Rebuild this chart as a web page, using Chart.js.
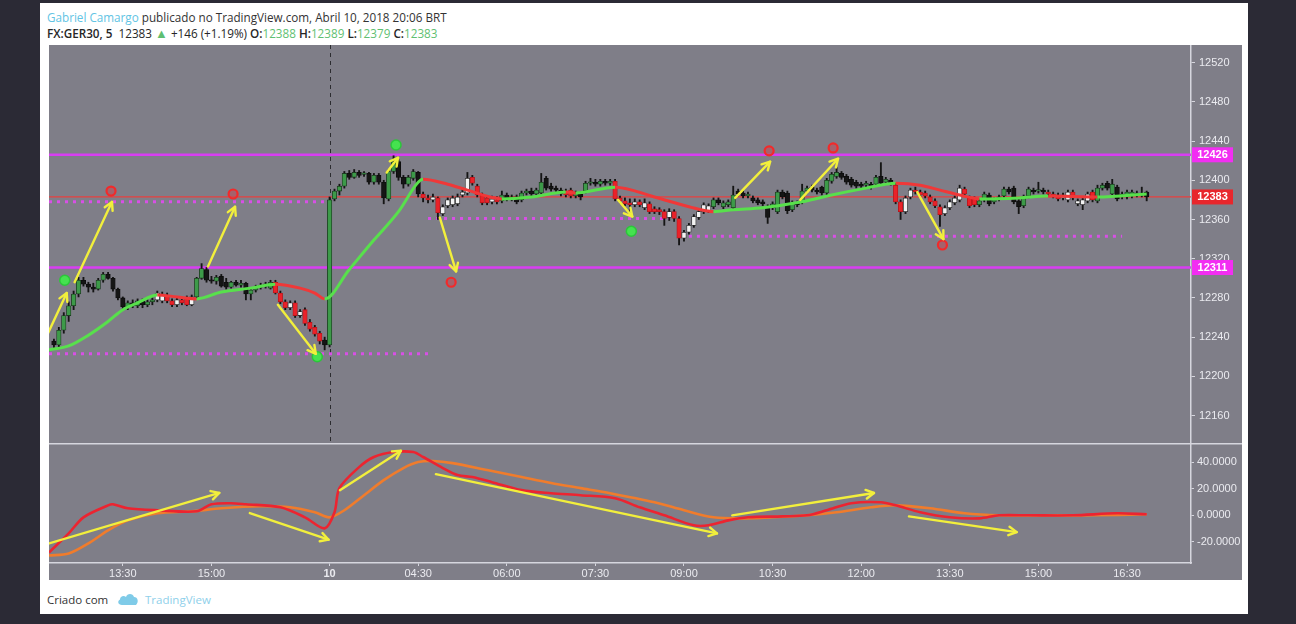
<!DOCTYPE html>
<html><head><meta charset="utf-8">
<script src="https://cdn.jsdelivr.net/npm/chart.js@4.4.1/dist/chart.umd.min.js"></script>
<style>
html,body{margin:0;padding:0;}
body{width:1296px;height:624px;background:#2b2a35;overflow:hidden;position:relative;font-family:"Open Sans",sans-serif;}
#card{position:absolute;left:40px;top:3px;width:1208px;height:611px;background:#fff;}
.hd{position:absolute;left:7px;font-size:11.7px;line-height:14px;color:#333;white-space:nowrap;}
.g{color:#5fbf72;font-weight:400;}
.ft{position:absolute;top:590px;font-size:11.5px;line-height:14px;white-space:nowrap;}
canvas{position:absolute;}
</style></head>
<body>
<div id="card">
  <div class="hd" style="top:7px"><span style="color:#62c4e4">Gabriel Camargo</span> publicado no TradingView.com, Abril 10, 2018 20:06 BRT</div>
  <div class="hd" style="top:23px;font-weight:600;color:#262626">FX:GER30, 5&nbsp; <span style="font-weight:400">12383</span> <span class="g" style="font-size:13px">&#9650;</span> <span style="font-weight:400">+146 (+1.19%)</span> O:<span class="g">12388</span> H:<span class="g">12389</span> L:<span class="g">12379</span> C:<span class="g">12383</span></div>
  <div class="ft" style="left:7px;color:#333">Criado com</div>
  <svg style="position:absolute;left:77px;top:589px" width="22" height="14" viewBox="0 0 22 14"><path d="M5 13 C1 13 0 9 3 7.5 C3 4 7 3 9 5 C10 1 16 1 17 5 C21 5 22 10 19 13 Z" fill="#7fcbe8"/></svg>
  <div class="ft" style="left:105px;color:#8fd0ea">TradingView</div>
</div>
<canvas id="main" width="1193" height="398" style="left:49px;top:45px;width:1193px;height:398px"></canvas>
<canvas id="osc" width="1193" height="137" style="left:49px;top:443px;width:1193px;height:137px"></canvas>
<script>
// ---------- DATA ----------
const timeTickIdx = [14,32,56,74,92,110,128,146,164,182,200,218];
const timeTickLabels = ['13:30','15:00','10','04:30','06:00','07:30','09:00','10:30','12:00','13:30','15:00','16:30'];
const priceTicks = [12160,12200,12240,12280,12320,12360,12400,12440,12480,12520];
const oscTicks = [-20,0,20,40];

const opens = [
12236,12232,12247,12262,12272,12284,12298,12294,12291,12289,
12298,12304,12300,12289,12280,12271,12275,12272,12277,12273,
12276,12278,12277,12283,12277,12273,12278,12280,12273,12281,
12300,12309,12298,12297,12302,12296,12291,12296,12293,12295,
12284,12288,12291,12292,12290,12296,12285,12276,12270,12275,
12262,12268,12255,12250,12244,12237,12232,12381,12389,12394,
12407,12403,12408,12406,12407,12398,12405,12398,12381,12409,
12419,12403,12396,12402,12408,12386,12382,12380,12382,12366,
12374,12375,12376,12385,12387,12403,12394,12385,12382,12378,
12380,12379,12385,12381,12383,12380,12387,12389,12386,12387,
12402,12394,12392,12390,12389,12390,12384,12386,12389,12397,
12398,12396,12399,12397,12399,12382,12379,12377,12375,12378,
12372,12376,12371,12370,12368,12362,12368,12361,12341,12347,
12354,12362,12368,12369,12373,12380,12373,12375,12372,12389,
12387,12384,12382,12380,12378,12373,12372,12368,12388,12387,
12370,12377,12378,12389,12393,12390,12393,12387,12399,12404,
12407,12404,12401,12398,12396,12395,12396,12396,12404,12398,
12400,12395,12378,12368,12383,12390,12388,12387,12383,12379,
12373,12366,12372,12377,12380,12391,12382,12381,12375,12380,
12385,12378,12381,12384,12391,12392,12379,12374,12384,12390,
12389,12390,12388,12386,12385,12382,12380,12388,12376,12375,
12379,12388,12379,12392,12397,12386,12393,12383,12383,12384,
12387,12385,12388];
const closes = [
12232,12247,12262,12272,12284,12298,12294,12291,12289,12298,
12304,12300,12289,12280,12271,12275,12272,12277,12273,12276,
12278,12285,12283,12277,12273,12278,12275,12273,12281,12300,
12310,12298,12297,12301,12292,12291,12296,12293,12295,12284,
12288,12291,12292,12294,12296,12285,12276,12270,12275,12262,
12266,12254,12248,12243,12236,12232,12380,12389,12394,12407,
12403,12408,12405,12407,12398,12405,12398,12382,12409,12419,
12403,12396,12403,12409,12386,12382,12380,12383,12367,12373,
12380,12382,12383,12388,12402,12397,12385,12377,12377,12381,
12378,12385,12381,12383,12378,12387,12389,12386,12390,12398,
12392,12391,12390,12386,12385,12384,12387,12383,12397,12398,
12396,12399,12397,12399,12381,12379,12376,12375,12378,12375,
12377,12368,12368,12368,12361,12368,12361,12341,12347,12354,
12363,12368,12375,12374,12380,12377,12377,12378,12385,12386,
12384,12386,12379,12377,12376,12362,12376,12388,12383,12369,
12377,12375,12389,12392,12390,12388,12387,12400,12406,12408,
12403,12398,12395,12394,12394,12397,12393,12403,12397,12401,
12397,12378,12368,12382,12390,12388,12385,12384,12378,12374,
12365,12372,12378,12382,12392,12386,12374,12375,12379,12386,
12376,12380,12383,12391,12388,12378,12373,12383,12391,12388,
12390,12388,12386,12384,12381,12385,12388,12382,12379,12380,
12386,12380,12392,12395,12392,12396,12381,12386,12388,12388,
12385,12387,12383];
const highs = [
12238,12250,12265,12276,12287,12301,12301,12296,12295,12300,
12306,12306,12301,12290,12281,12277,12278,12279,12279,12278,
12280,12287,12286,12285,12279,12280,12280,12282,12283,12301,
12315,12311,12302,12303,12304,12300,12297,12298,12298,12296,
12290,12293,12295,12296,12298,12298,12287,12278,12277,12277,
12268,12270,12258,12252,12246,12240,12383,12391,12396,12409,
12410,12411,12410,12409,12408,12407,12407,12400,12411,12425,
12421,12405,12405,12411,12409,12388,12385,12386,12383,12375,
12382,12384,12386,12392,12408,12405,12396,12387,12384,12384,
12383,12389,12387,12385,12385,12389,12391,12392,12392,12407,
12404,12397,12394,12392,12391,12392,12389,12388,12399,12402,
12401,12401,12401,12401,12401,12384,12382,12381,12381,12380,
12381,12378,12373,12372,12370,12371,12370,12363,12349,12356,
12365,12370,12377,12376,12382,12382,12379,12380,12394,12391,
12389,12388,12384,12382,12380,12375,12378,12390,12390,12389,
12379,12379,12396,12394,12395,12392,12394,12402,12408,12413,
12409,12406,12403,12400,12398,12399,12398,12405,12418,12403,
12402,12397,12380,12384,12392,12393,12390,12389,12385,12381,
12375,12374,12380,12384,12395,12393,12384,12383,12381,12388,
12387,12382,12385,12393,12393,12394,12381,12385,12393,12392,
12398,12392,12390,12388,12387,12387,12390,12390,12381,12382,
12388,12390,12395,12397,12399,12401,12395,12388,12390,12390,
12389,12393,12389];
const lows = [
12229,12230,12244,12256,12268,12281,12292,12286,12286,12288,
12296,12299,12287,12278,12269,12268,12270,12270,12270,12271,
12273,12276,12275,12275,12271,12271,12273,12272,12272,12280,
12299,12296,12295,12294,12291,12289,12290,12292,12291,12278,
12278,12286,12289,12290,12289,12284,12274,12268,12268,12260,
12260,12252,12246,12241,12233,12227,12230,12379,12385,12392,
12401,12402,12403,12404,12396,12396,12396,12376,12379,12407,
12400,12392,12394,12400,12383,12378,12377,12378,12360,12364,
12372,12373,12374,12383,12385,12395,12383,12375,12375,12376,
12376,12377,12379,12379,12376,12378,12385,12384,12384,12385,
12390,12389,12388,12384,12383,12382,12382,12380,12387,12395,
12394,12394,12395,12395,12379,12377,12374,12368,12373,12373,
12370,12366,12366,12365,12354,12359,12358,12334,12338,12345,
12352,12360,12366,12367,12371,12375,12371,12373,12370,12384,
12382,12382,12377,12375,12374,12356,12370,12366,12381,12366,
12368,12373,12376,12387,12388,12386,12385,12385,12397,12402,
12401,12396,12393,12392,12392,12393,12391,12394,12395,12396,
12395,12376,12360,12366,12381,12386,12383,12382,12376,12372,
12353,12364,12370,12375,12378,12384,12372,12373,12373,12378,
12374,12376,12379,12382,12386,12376,12366,12372,12382,12386,
12387,12386,12384,12382,12379,12380,12378,12380,12374,12370,
12377,12378,12377,12390,12390,12384,12379,12381,12381,12382,
12383,12383,12379];

// moving average (bar index, price)
const maIdx = [-1,3,7,11,14,17,21,25,29,34,40,45,50,53,55,60,65,70,74,75,80,84,91,97,104,106,114,122,129,134,138,144,152,158,165,171,176,180,184,188,196,202,212,222];
const maVal = [12227,12231,12242,12256,12268,12275,12283,12281,12279,12286,12290,12294,12290,12285,12279,12309,12339,12368,12398,12401,12396,12390,12381,12383,12388,12387,12393,12383,12373,12368,12370,12372,12378,12385,12392,12397,12395,12390,12385,12381,12382,12384,12383,12386];

// oscillator (lower pane)
const redIdx = [-1,3,6,11,12,15,21,29,32,36,39,46,51,55,57,58,62,65,69,73,75,79,82,85,89,95,101,107,114,119,124,130,133,137,141,148,153,157,162,168,171,176,182,188,192,198,207,216,222];
const redVal = [-27.9,-13.6,-1.5,7.5,8.3,5.3,3.8,3.0,8.3,9.1,8.3,6.0,-1.5,-9.8,2.3,20.4,36.2,43.8,47.5,47.5,43.8,35.5,30.2,28.7,24.9,18.9,16.6,15.1,12.8,6.0,0,-7.5,-7.5,-3.8,-1.5,-0.8,0,3.8,9.1,9.8,7.5,2.3,-1.5,-2.3,0,0,0,1.5,0.8];
const orangeIdx = [-1,3,7,11,15,21,28,34,42,48,53,56,59,63,67,71,74,77,81,88,95,101,107,113,122,128,134,140,146,153,159,166,171,178,185,192,203,211,222];
const orangeVal = [-30.2,-28.7,-21.1,-11.3,-3.8,1.5,3.0,5.3,6.8,6.0,2.3,-1.5,3.8,15.1,26.4,35.5,40.0,40.8,39.2,34.0,28.7,24.2,20.4,16.6,9.8,3.8,-1.5,-2.3,-1.5,0,2.3,6.0,7.5,5.3,1.5,0,0,0,0.8];

// horizontal levels
const solidLevels = [12426, 12311];
const lastPrice = 12383;
const dotLevels = [12378, 12223, 12361, 12343];
const dotFrom = [-1, -1, 76, 129];
const dotTo = [56, 76, 125, 217];

// markers
const redMarkIdx = [11.6, 36.4, 80.7, 145.3, 158.3, 180.5];
const redMarkVal = [12389, 12386, 12296, 12430, 12433, 12334];
const greenMarkIdx = [2.2, 53.5, 69.5, 117.3];
const greenMarkVal = [12298, 12220, 12436, 12348];

// drawn arrows [fromIdx, fromVal, toIdx, toVal]
const arrowMain = [[-1.2,12244,2.6,12285],[4.2,12296,11.8,12378],[31.3,12312,36.8,12373],[45.5,12273,53.2,12223],[67.6,12408,69.9,12423],[78.4,12362,81.7,12307],[114.6,12380,117.5,12363],[138.4,12382,145.5,12419],[151.6,12380,159.3,12422],[175.4,12388,180.7,12340]];
const arrowOsc = [[-1,-21.1,33.6,16.8],[39.8,1.7,55.8,-18.3],[58.1,18.9,70.5,48.5],[77.6,30.9,134.7,-13.6],[137.8,0,166.6,16.8],[173.7,-0.8,195.6,-12.6]];

// ---------- STYLE ----------
Chart.defaults.font.family = "'Liberation Sans', Arial, sans-serif";
const GRAY = '#7f7e88', AXIS = '#d6d6de', TXT = '#ebebf0';
const MAG = '#d83ef2', YEL = '#f2ef3c';
const X_MIN = -1, X_MAX = 231;

function maRising(j){
  for (let k = 0; k < maIdx.length - 1; k++) {
    if (j >= maIdx[k] && j < maIdx[k+1]) return maVal[k+1] >= maVal[k];
  }
  return true;
}
function candleKind(k){
  const up = closes[k] >= opens[k], r = maRising(k);
  return up ? (r ? 'g' : 'w') : (r ? 'k' : 'r');
}
const FILL = {g:'#3d9a49', w:'#f3f3f3', k:'#151515', r:'#ea2229'};
const EDGE = {g:'#1d3b21', w:'#2a2a2a', k:'#0d0d0d', r:'#b5151b'};

const bgPlugin = { id:'bg', beforeDraw(c){ const g=c.ctx; g.save(); g.fillStyle=GRAY; g.fillRect(0,0,c.width,c.height); g.restore(); } };
const noPad = s => { s.paddingTop = 0; s.paddingBottom = 0; s.paddingLeft = 0; s.paddingRight = 0; };

function drawArrows(chart, list){
  const g = chart.ctx, xs = chart.scales.x, ys = chart.scales.y;
  g.save(); g.strokeStyle = YEL; g.lineWidth = 2.4; g.lineCap='round'; g.lineJoin='round';
  list.forEach(a => {
    const x1 = xs.getPixelForValue(a[0]), y1 = ys.getPixelForValue(a[1]);
    const x2 = xs.getPixelForValue(a[2]), y2 = ys.getPixelForValue(a[3]);
    const ang = Math.atan2(y2-y1, x2-x1), L = 9;
    g.beginPath(); g.moveTo(x1,y1); g.lineTo(x2,y2); g.stroke();
    g.beginPath();
    g.moveTo(x2 - L*Math.cos(ang-0.5), y2 - L*Math.sin(ang-0.5));
    g.lineTo(x2,y2);
    g.lineTo(x2 - L*Math.cos(ang+0.5), y2 - L*Math.sin(ang+0.5));
    g.stroke();
  });
  g.restore();
}

const dayBreak = timeTickIdx[timeTickLabels.indexOf('10')];

const mainOverlay = {
  id:'mainOverlay',
  beforeDatasetsDraw(c){
    const g=c.ctx, a=c.chartArea, x=Math.round(c.scales.x.getPixelForValue(dayBreak))+0.5;
    g.save(); g.strokeStyle='#2c2c30'; g.lineWidth=1; g.setLineDash([4,4]);
    g.beginPath(); g.moveTo(x,a.top); g.lineTo(x,a.bottom); g.stroke(); g.restore();
  },
  afterDatasetsDraw(c){ drawArrows(c, arrowMain); },
  afterDraw(c){
    const g=c.ctx, ys=c.scales.y, a=c.chartArea;
    const boxes = [[solidLevels[0], '#f22ef2'], [lastPrice, '#e8262c'], [solidLevels[1], '#f22ef2']];
    g.save();
    boxes.forEach(b => {
      const y = ys.getPixelForValue(b[0]);
      g.fillStyle = b[1]; g.fillRect(a.right+1, y-7.5, 41, 15);
      g.fillStyle = '#fff'; g.font = "bold 11px 'Liberation Sans', Arial"; g.textAlign='center'; g.textBaseline='middle';
      g.fillText(String(b[0]), a.right+21.5, y+0.5);
    });
    g.restore();
  }
};

const oscOverlay = {
  id:'oscOverlay',
  afterDatasetsDraw(c){ drawArrows(c, arrowOsc); },
  afterDraw(c){ const g=c.ctx; g.save(); g.fillStyle=AXIS; g.fillRect(0,0,c.width,1.5); g.restore(); }
};

// ---------- MAIN CHART ----------
const idx = closes.map((_, k) => k);
const levelSets = [];
solidLevels.forEach(v => levelSets.push({type:'line', data:[{x:X_MIN,y:v},{x:X_MAX,y:v}], borderColor:MAG, borderWidth:2.6, pointRadius:0, order:10}));
levelSets.push({type:'line', data:[{x:X_MIN,y:lastPrice},{x:X_MAX,y:lastPrice}], borderColor:'#e8403f', borderWidth:1.2, pointRadius:0, order:10});
dotLevels.forEach((v,k) => levelSets.push({type:'line', data:[{x:dotFrom[k],y:v},{x:dotTo[k],y:v}], borderColor:'#d84fe6', borderWidth:3, borderDash:[3,5], pointRadius:0, order:9}));

new Chart(document.getElementById('main'), {
  type:'bar',
  data:{ datasets:[
    ...levelSets,
    { type:'bar', data: idx.map(k => ({x:k, y:[lows[k], highs[k]]})), grouped:false, barThickness:1.2, backgroundColor:'#151515', borderWidth:0, order:6 },
    { type:'bar', data: idx.map(k => ({x:k, y:[opens[k], closes[k]]})), grouped:false, barThickness:4.5, minBarLength:1.5,
      backgroundColor: ctx => FILL[candleKind(ctx.dataIndex)], borderColor: ctx => EDGE[candleKind(ctx.dataIndex)], borderWidth:0.8, borderSkipped:false, order:5 },
    { type:'line', data: maIdx.map((j,k) => ({x:j, y:maVal[k]})), borderWidth:3, pointRadius:0, cubicInterpolationMode:'monotone',
      borderColor:'#58e04c', segment:{ borderColor: s => s.p1.parsed.y >= s.p0.parsed.y ? '#58e04c' : '#f03838' }, order:3 },
    { type:'line', data: redMarkIdx.map((j,k) => ({x:j, y:redMarkVal[k]})), showLine:false, pointRadius:4.5, pointBorderWidth:2.2,
      pointBackgroundColor:'rgba(190,80,90,0.6)', pointBorderColor:'#f22a2a', order:1 },
    { type:'line', data: greenMarkIdx.map((j,k) => ({x:j, y:greenMarkVal[k]})), showLine:false, pointRadius:5, pointBorderWidth:1.5,
      pointBackgroundColor:'#45e24f', pointBorderColor:'#2cc63a', order:1 }
  ]},
  options:{
    responsive:false, animation:false, events:[],
    layout:{ padding:0, autoPadding:false },
    plugins:{ legend:{display:false}, tooltip:{enabled:false} },
    scales:{
      x:{ type:'linear', min:X_MIN, max:X_MAX, offset:false, display:false },
      y:{ type:'linear', position:'right', min:12132, max:12538,
          afterBuildTicks: s => { s.ticks = priceTicks.map(v => ({value:v})); },
          afterFit: s => { s.width = 51; noPad(s); },
          ticks:{ color:TXT, font:{size:11}, padding:4, callback: v => String(v) },
          grid:{ drawOnChartArea:false, drawTicks:true, tickLength:4, color:AXIS },
          border:{ display:true, color:AXIS, width:1.5 } }
    }
  },
  plugins:[bgPlugin, mainOverlay]
});

// ---------- OSCILLATOR ----------
new Chart(document.getElementById('osc'), {
  type:'line',
  data:{ datasets:[
    { data: orangeIdx.map((j,k) => ({x:j, y:orangeVal[k]})), borderColor:'#f07c2c', borderWidth:2.6, pointRadius:0, tension:0.3, order:2 },
    { data: redIdx.map((j,k) => ({x:j, y:redVal[k]})), borderColor:'#ec2430', borderWidth:2.6, pointRadius:0, tension:0.3, order:1 }
  ]},
  options:{
    responsive:false, animation:false, events:[],
    layout:{ padding:0, autoPadding:false },
    plugins:{ legend:{display:false}, tooltip:{enabled:false} },
    scales:{
      x:{ type:'linear', min:X_MIN, max:X_MAX, offset:false, position:'bottom',
          afterBuildTicks: s => { s.ticks = timeTickIdx.map(v => ({value:v})); },
          afterFit: s => { s.height = 17; noPad(s); },
          ticks:{ color:TXT, autoSkip:false, maxRotation:0, padding:1,
                  callback: (v, i) => timeTickLabels[i],
                  font: ctx => ({ size:11, weight: (ctx.tick && ctx.tick.value === dayBreak) ? 'bold' : 'normal' }) },
          grid:{ drawOnChartArea:false, tickLength:3, color:AXIS },
          border:{ display:true, color:AXIS, width:1.5 } },
      y:{ type:'linear', position:'right', min:-35.8, max:54.3,
          afterBuildTicks: s => { s.ticks = oscTicks.map(v => ({value:v})); },
          afterFit: s => { s.width = 51; noPad(s); },
          ticks:{ color:TXT, font:{size:11}, padding:3, callback: v => v.toFixed(4) },
          grid:{ drawOnChartArea:false, tickLength:3, color:AXIS },
          border:{ display:true, color:AXIS, width:1.5 } }
    }
  },
  plugins:[bgPlugin, oscOverlay]
});
</script>
</body></html>
